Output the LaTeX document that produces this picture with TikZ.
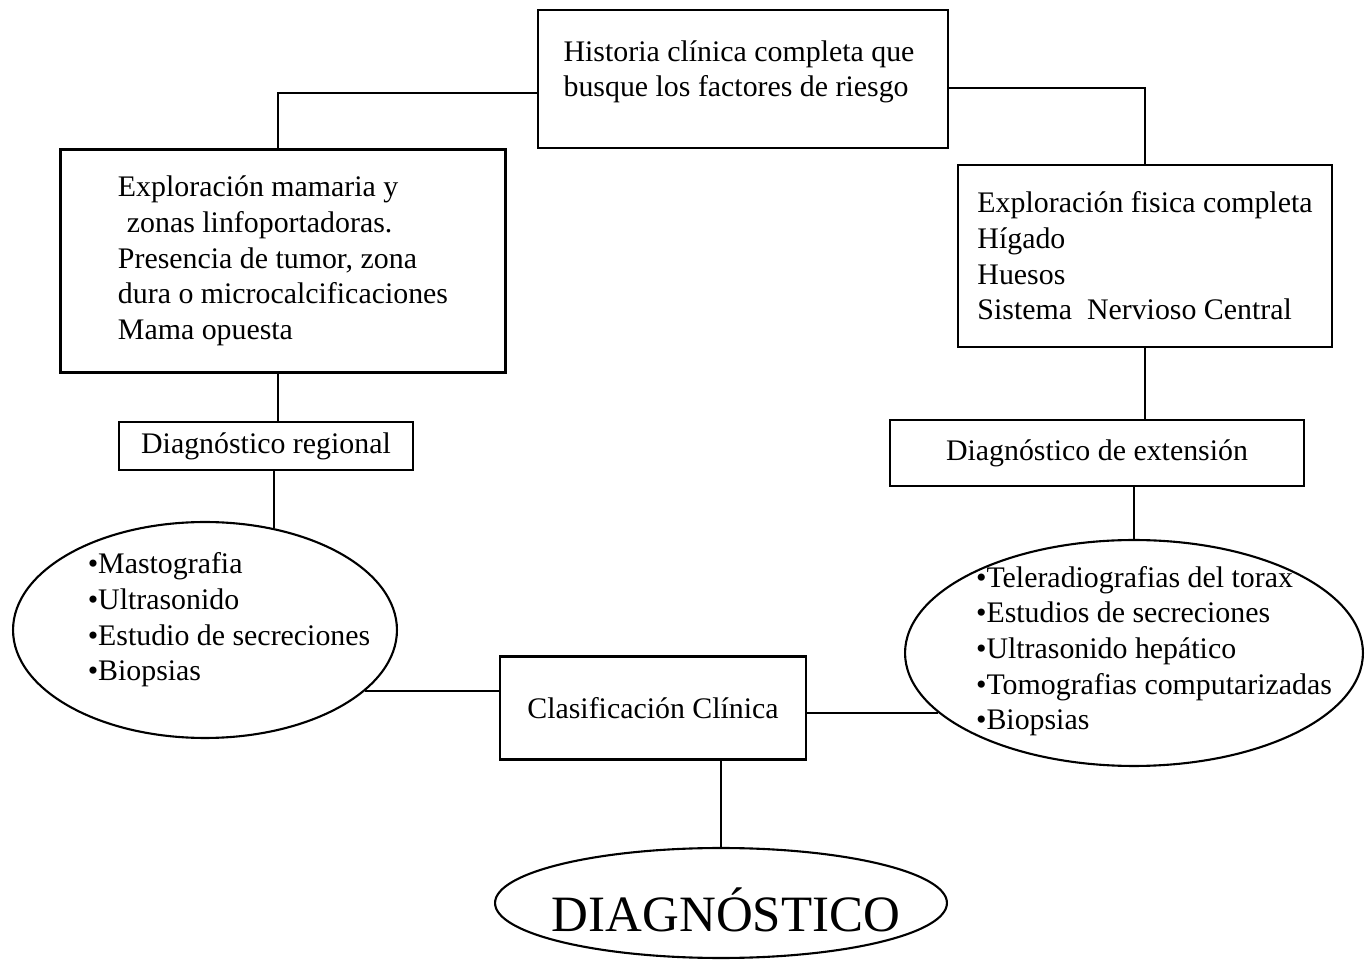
\documentclass[tikz,border=0pt]{standalone}
\usepackage{fontspec}
\setmainfont{Liberation Serif}
\usetikzlibrary{shapes.geometric}

\tikzset{
  caja/.style={draw, line width=1.2pt, inner sep=0pt, align=left,
    font=\fontsize{17}{20.3}\selectfont},
  elipse/.style={draw, ellipse, line width=1.2pt, inner sep=0pt},
  texto/.style={align=left, inner sep=0pt, font=\fontsize{17}{20.3}\selectfont},
  linea/.style={line width=1.2pt}
}

\begin{document}
\begin{tikzpicture}[x=0.02cm,y=-0.02cm]
\useasboundingbox (0,0) rectangle (1367,962);

% cajas
\node[caja, minimum width=8.2cm, minimum height=2.76cm] (historia) at (743,79) {};
\node[texto] (historiatxt) at (739,72) {Historia clínica completa que\\busque los factores de riesgo};

\node[caja, minimum width=8.9cm, minimum height=4.46cm] (exploracion) at (283,261) {Exploración mamaria y\\\hspace{0.3em}zonas linfoportadoras.\\Presencia de tumor, zona\\dura o microcalcificaciones\\Mama opuesta};
\node[caja, minimum width=7.48cm, minimum height=3.64cm] (fisica) at (1145,256) {Exploración fisica completa\\Hígado\\Huesos\\Sistema\ \ Nervioso Central};

\node[caja, minimum width=5.88cm, minimum height=0.96cm] (regional) at (266,446) {Diagnóstico regional};
\node[caja, minimum width=8.28cm, minimum height=1.32cm] (extension) at (1097,453) {Diagnóstico de extensión};

\node[caja, minimum width=6.12cm, minimum height=2.06cm] (clasificacion) at (653,708) {Clasificación Clínica};

% elipses
\node[elipse, minimum width=7.68cm, minimum height=4.32cm] (mama) at (205,630) {};
\node[texto] (mamatxt) at (229,620) {•Mastografia\\•Ultrasonido\\•Estudio de secreciones\\•Biopsias};

\node[elipse, minimum width=9.16cm, minimum height=4.52cm] (estudios) at (1134,653) {};
\node[texto] (estudiostxt) at (1154,651) {•Teleradiografias del torax\\•Estudios de secreciones\\•Ultrasonido hepático\\•Tomografias computarizadas\\•Biopsias};

\node[elipse, minimum width=9.04cm, minimum height=2.2cm] (diagnostico) at (721,903) {};
\node[texto, font=\fontsize{29}{34}\selectfont] (diagnosticotxt) at (726,910) {DIAGNÓSTICO};

% conectores
\draw[linea] ([yshift=-0.28cm]historia.west) -| ([xshift=-0.1cm]exploracion.north);
\draw[linea] ([yshift=-0.18cm]historia.east) -| (fisica.north);
\draw[linea] ([xshift=-0.1cm]exploracion.south) -- ([xshift=-0.1cm]exploracion.south |- regional.north);
\draw[linea] (mama.56) -- (mama.56 |- regional.south);
\draw[linea] (fisica.south) -- (fisica.south |- extension.north);
\draw[linea] (estudios.north) -- (estudios.north |- extension.south);
\draw[linea] (mama.-21) -- (mama.-21 -| clasificacion.west);
\draw[linea] (estudios.197) -- (estudios.197 -| clasificacion.east);
\draw[linea] (diagnostico.north) -- (diagnostico.north |- clasificacion.south);
\end{tikzpicture}
\end{document}
